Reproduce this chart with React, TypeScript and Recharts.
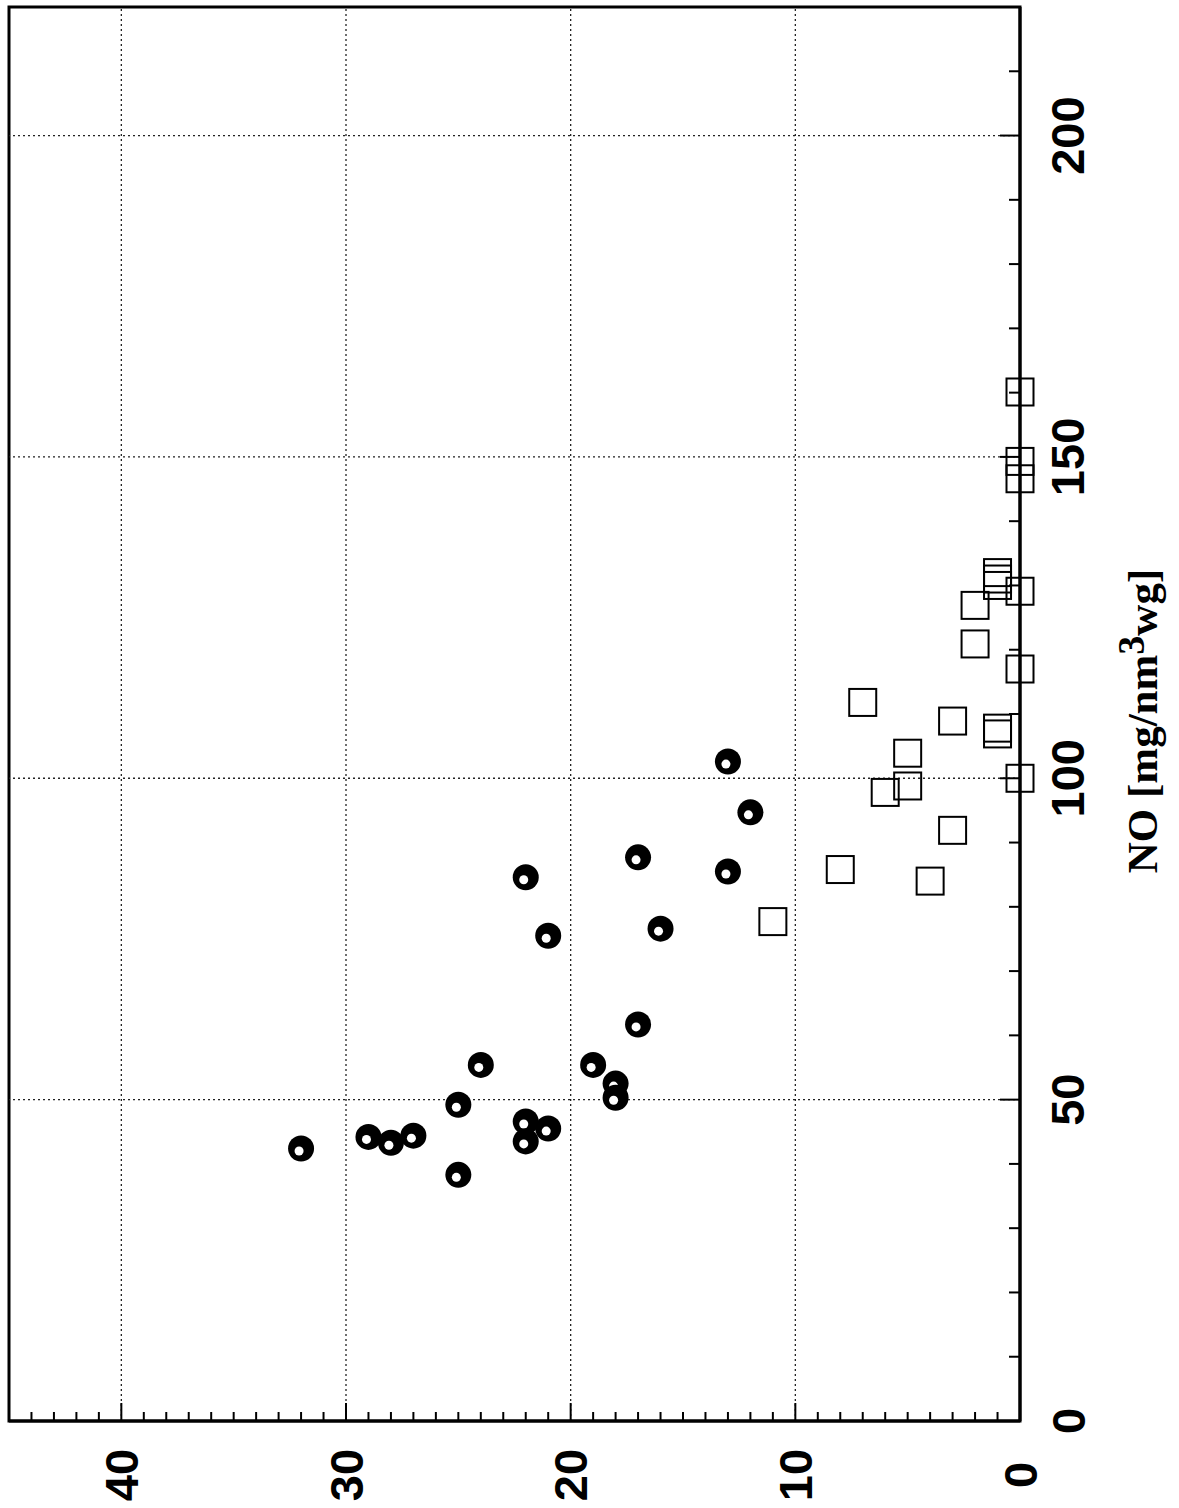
import React from 'react';
import { ScatterChart, Scatter, XAxis, YAxis, ReferenceLine, ReferenceArea } from 'recharts';

// Circle series (filled)
const circleY = [32, 29, 28, 27, 25, 25, 24, 22, 22, 21, 22, 21, 19, 18, 18, 17, 17, 16, 13, 13, 12];
const circleNO = [42.4, 44.2, 43.3, 44.4, 38.3, 49.2, 55.4, 46.6, 43.5, 45.5, 84.6, 75.5, 55.4, 52.5, 50.3, 61.7, 87.7, 76.6, 85.5, 102.6, 94.7];

// Square series (open)
const squareY = [11, 8, 7, 6, 5, 5, 4, 3, 3, 2, 2, 1, 1, 1, 1, 1, 0, 0, 0, 0, 0, 0];
const squareNO = [77.7, 85.8, 111.8, 97.8, 98.8, 103.9, 84.0, 91.9, 108.9, 120.9, 126.9, 106.9, 107.8, 130, 131, 132, 100, 117, 129.1, 146.6, 149.3, 160.1];

// Axis ticks
const bottomTicks = Array.from({ length: 46 }, (_, i) => i);
const rightTicks = Array.from({ length: 23 }, (_, i) => i * 10);
const bottomGrid = [10, 20, 30, 40];
const rightGrid = [50, 100, 150, 200];

const circleData = circleY.map((v, i) => ({ yv: v, no: circleNO[i] }));
const squareData = squareY.map((v, i) => ({ yv: v, no: squareNO[i] }));

const CircleDot = (props: any) => {
  const { cx, cy } = props;
  if (cx == null || cy == null) return null;
  return (
    <g>
      <circle cx={cx} cy={cy} r={13} fill="#000" />
      <circle cx={cx - 2} cy={cy + 2.5} r={4.5} fill="#fff" />
    </g>
  );
};

const SquareDot = (props: any) => {
  const { cx, cy } = props;
  if (cx == null || cy == null) return null;
  return <rect x={cx - 13.5} y={cy - 13.5} width={27} height={27} fill="none" stroke="#000" strokeWidth={2} />;
};

const BottomTick = (props: any) => {
  const { x, y, payload } = props;
  const v = payload.value;
  const major = v % 10 === 0;
  const ty = y + 54;
  return (
    <g>
      <line x1={x} x2={x} y1={y} y2={y - (major ? 18 : 9)} stroke="#000" strokeWidth={2} />
      {major && (
        <text
          x={x}
          y={ty}
          transform={`rotate(-90 ${x} ${ty})`}
          textAnchor="middle"
          dominantBaseline="central"
          fontFamily="'Liberation Sans', Arial, sans-serif"
          fontWeight="bold"
          fontSize={47}
          fill="#000"
        >
          {v}
        </text>
      )}
    </g>
  );
};

const RightTick = (props: any) => {
  const { x, y, payload } = props;
  const v = payload.value;
  const major = v % 50 === 0;
  const tx = x + 48;
  return (
    <g>
      <line x1={x} x2={x - (major ? 20 : 11)} y1={y} y2={y} stroke="#000" strokeWidth={2} />
      {major && (
        <text
          x={tx}
          y={y}
          transform={`rotate(-90 ${tx} ${y})`}
          textAnchor="middle"
          dominantBaseline="central"
          fontFamily="'Liberation Sans', Arial, sans-serif"
          fontWeight="bold"
          fontSize={47}
          fill="#000"
        >
          {v}
        </text>
      )}
    </g>
  );
};

const NoLabel = (props: any) => {
  const vb = props.viewBox || {};
  const x = (vb.x ?? 1020) + 137;
  const y = (vb.y ?? 7) + (vb.height ?? 1414) / 2 + 7;
  return (
    <text
      x={x}
      y={y}
      transform={`rotate(-90 ${x} ${y})`}
      textAnchor="middle"
      fontFamily="'Liberation Serif', 'Times New Roman', serif"
      fontWeight="bold"
      fontSize={43}
      fill="#000"
    >
      <tspan>NO [mg/nm</tspan>
      <tspan dy={-13} fontSize={38}>3</tspan>
      <tspan dy={13}>wg]</tspan>
    </text>
  );
};

export default function App() {
  return (
    <div style={{ position: 'absolute', left: 0, top: 0, width: 1179, height: 1508, background: '#fff' }}>
      <ScatterChart width={1179} height={1508} margin={{ top: 7, left: 9, right: 0, bottom: 0 }}>
        <XAxis
          type="number"
          dataKey="yv"
          domain={[0, 45]}
          reversed
          ticks={bottomTicks}
          interval={0}
          height={87}
          tickSize={0}
          tickMargin={0}
          tickLine={false}
          axisLine={{ stroke: '#000', strokeWidth: 3 }}
          tick={<BottomTick />}
        />
        <YAxis
          type="number"
          dataKey="no"
          orientation="right"
          domain={[0, 220]}
          ticks={rightTicks}
          interval={0}
          width={159}
          tickSize={0}
          tickMargin={0}
          tickLine={false}
          axisLine={{ stroke: '#000', strokeWidth: 3 }}
          tick={<RightTick />}
          label={{ content: NoLabel }}
        />
        {bottomGrid.map((v) => (
          <ReferenceLine key={'bx' + v} x={v} stroke="#222" strokeWidth={1.3} strokeDasharray="2 3" />
        ))}
        {rightGrid.map((v) => (
          <ReferenceLine key={'ry' + v} y={v} stroke="#222" strokeWidth={1.3} strokeDasharray="2 3" />
        ))}
        <ReferenceArea x1={0} x2={45} y1={0} y2={220} fill="none" fillOpacity={0} stroke="#000" strokeWidth={3} />
        <Scatter data={squareData} shape={<SquareDot />} isAnimationActive={false} />
        <Scatter data={circleData} shape={<CircleDot />} isAnimationActive={false} />
      </ScatterChart>
    </div>
  );
}
